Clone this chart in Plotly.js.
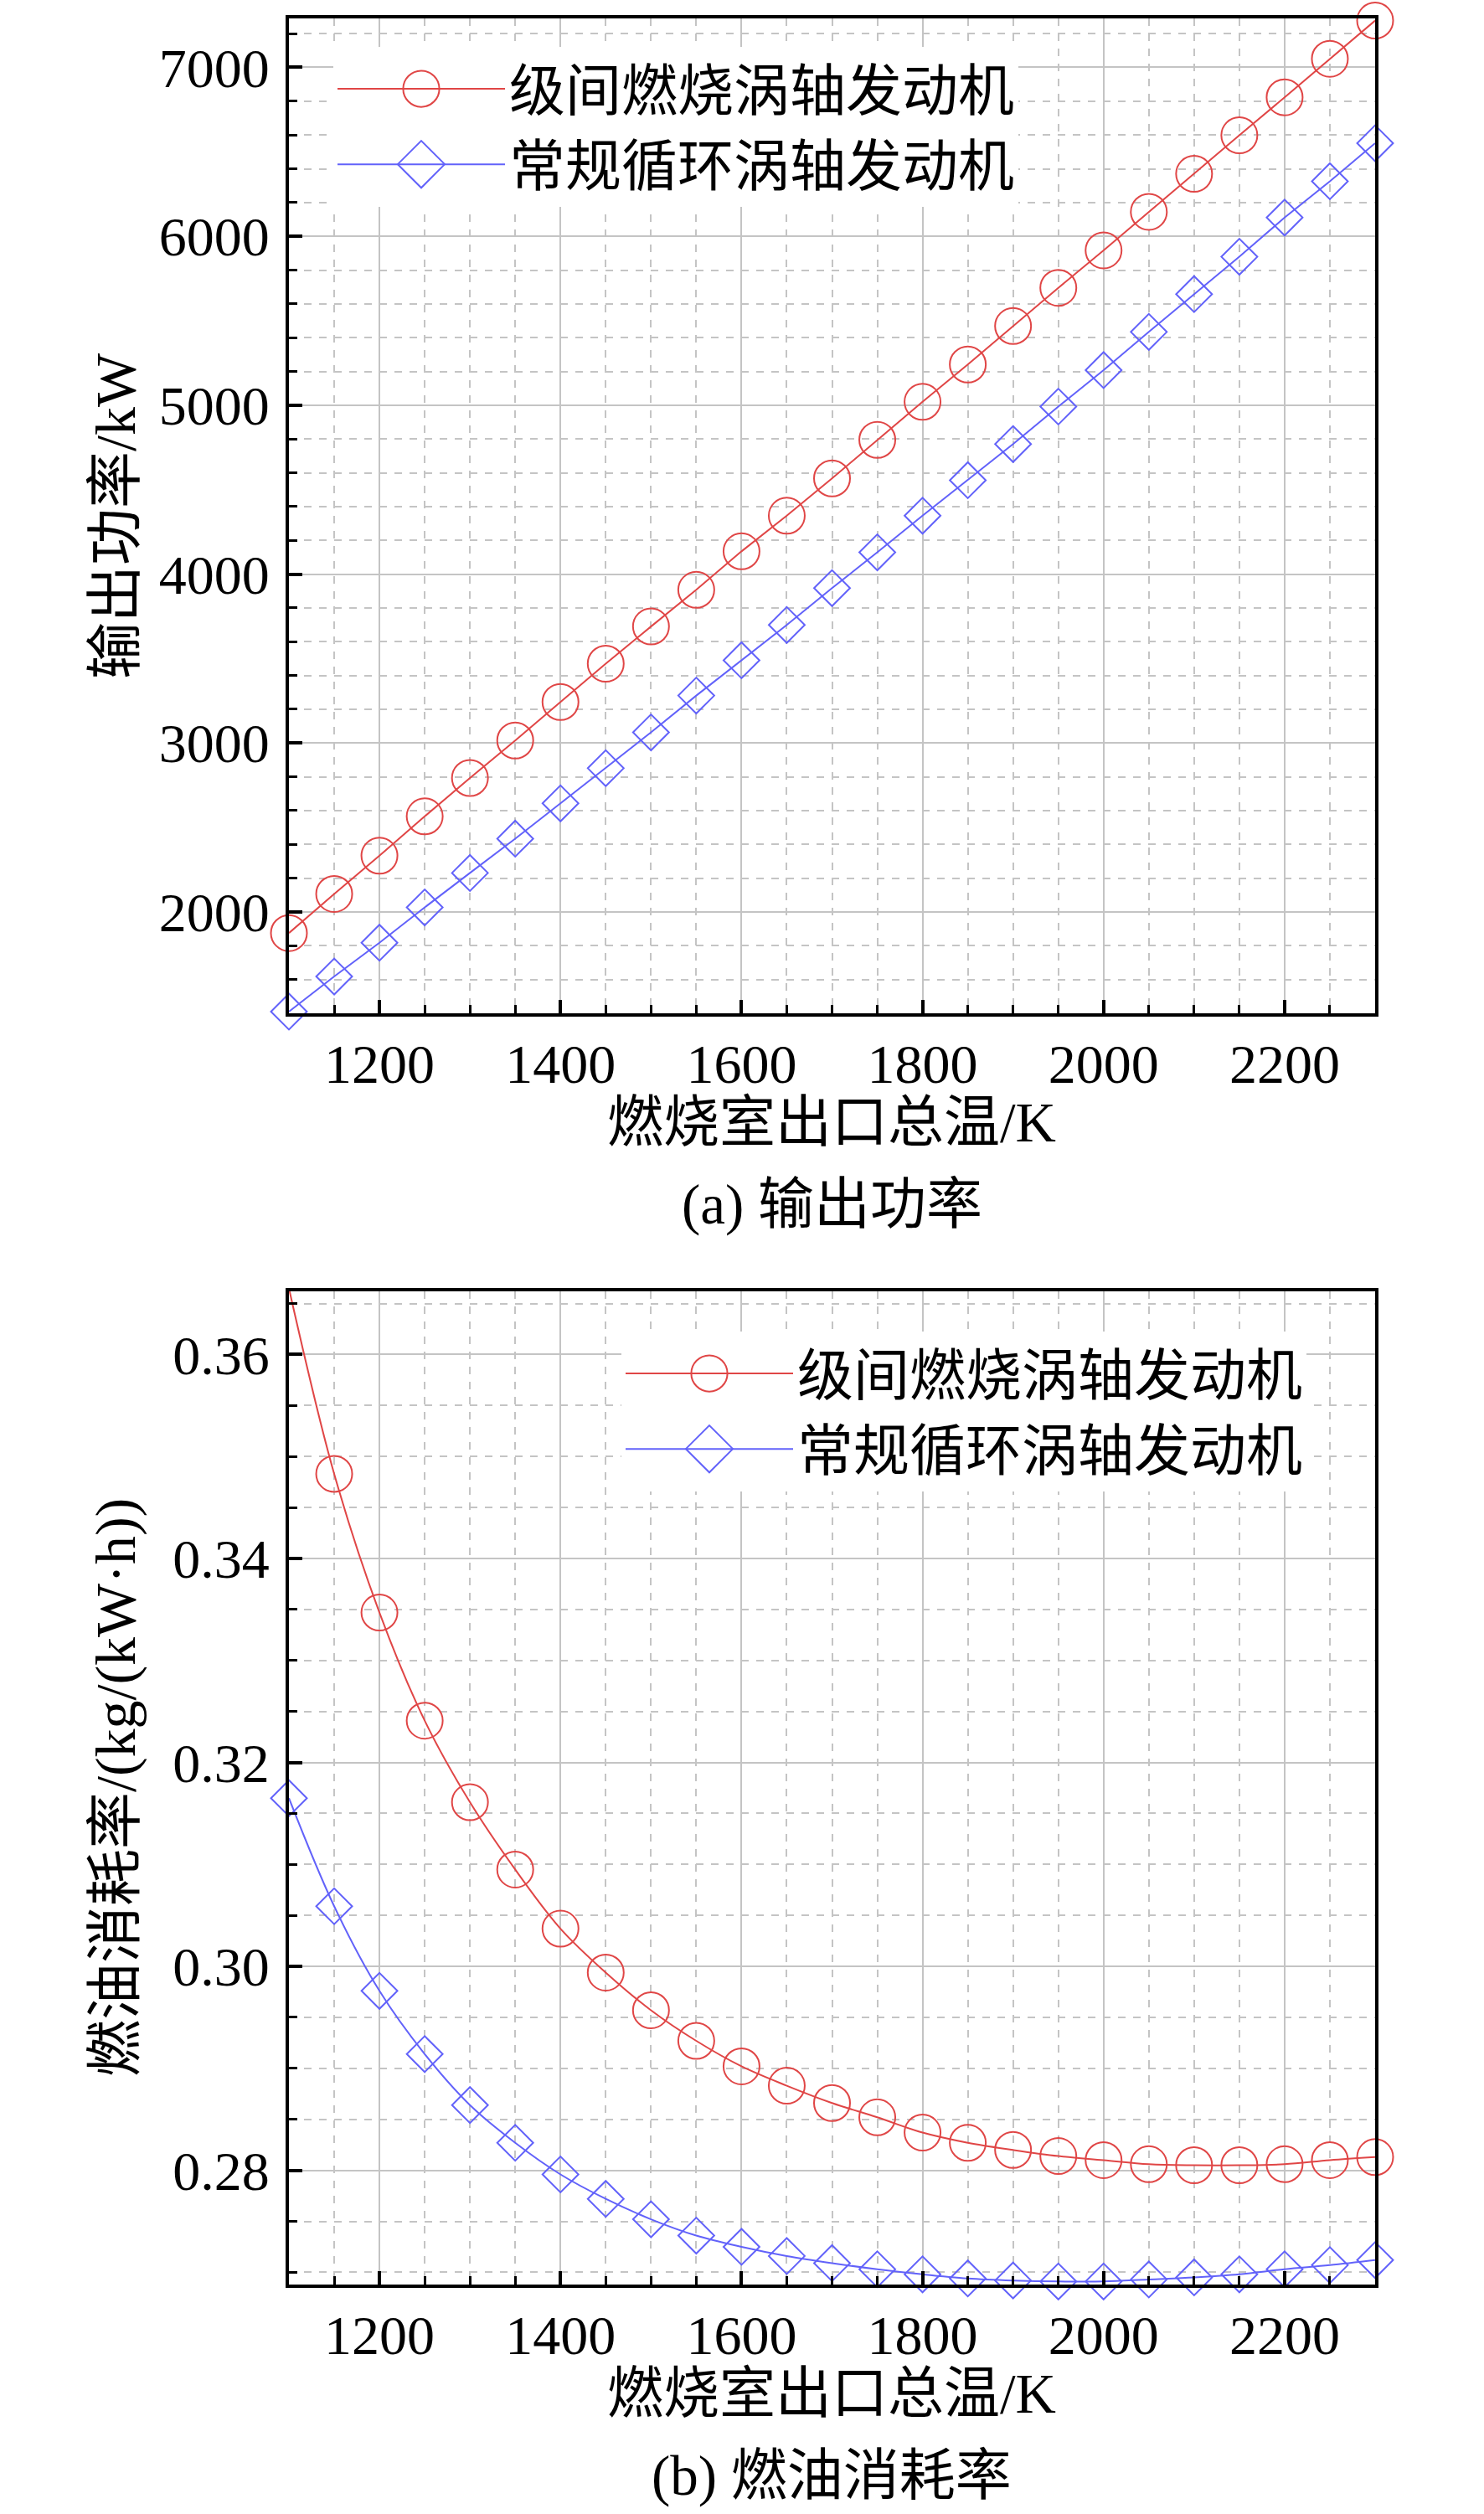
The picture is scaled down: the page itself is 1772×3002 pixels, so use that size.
<!DOCTYPE html>
<html>
<head>
<meta charset="utf-8">
<script src="https://cdn.plot.ly/plotly-3.0.1.min.js"></script>
<style>
  html, body { margin: 0; padding: 0; background: #fff; }
  #chart { width: 1772px; height: 3002px; }
</style>
</head>
<body>
<div id="chart"></div>
<script>
// Combustor exit total temperature (K)
const temps = [1100, 1150, 1200, 1250, 1300, 1350, 1400, 1450, 1500, 1550, 1600, 1650, 1700,
               1750, 1800, 1850, 1900, 1950, 2000, 2050, 2100, 2150, 2200, 2250, 2300];

const seriesNames = ['级间燃烧涡轴发动机', '常规循环涡轴发动机'];

// (a) output power, kW
const powerInterstage = [1875, 2107, 2333, 2566, 2793, 3015, 3243, 3470, 3690, 3907, 4135, 4346, 4567,
                         4795, 5020, 5241, 5469, 5695, 5917, 6145, 6370, 6598, 6823, 7051, 7277];
const powerConventional = [1410, 1618, 1818, 2027, 2231, 2434, 2643, 2851, 3063, 3281, 3490, 3699, 3917,
                           4129, 4346, 4556, 4770, 4992, 5208, 5434, 5658, 5879, 6111, 6326, 6551];

// (b) fuel consumption rate, kg/(kW·h)
const sfcInterstage = [0.3665, 0.3483, 0.3347, 0.3241, 0.3161, 0.3095, 0.3037, 0.2994, 0.2957, 0.2927, 0.2902, 0.2883, 0.2866,
                       0.2852, 0.2837, 0.2827, 0.2820, 0.2814, 0.2810, 0.2806, 0.2805, 0.2805, 0.2806, 0.2810, 0.2813];
const sfcConventional = [0.3165, 0.3059, 0.2976, 0.2914, 0.2864, 0.2827, 0.2796, 0.2772, 0.2752, 0.2736, 0.2725, 0.2716, 0.2709,
                         0.2703, 0.2698, 0.2694, 0.2692, 0.2691, 0.2691, 0.2693, 0.2695, 0.2698, 0.2703, 0.2707, 0.2712];

const xTitle = '燃烧室出口总温/K';
const yTitles = ['输出功率/kW', '燃油消耗率/(kg/(kW·h))'];
const captions = ['(a) 输出功率', '(b) 燃油消耗率'];

const W = 1772, H = 3002;
const FONT = 'Liberation Serif, "Noto Sans CJK SC", serif';
const RED = '#e04646';
const BLUE = '#6262fa';

// pixel helpers -> paper coordinates (margins are zero)
const px = (x) => x / W;
const py = (y) => 1 - y / H;

const plotLeft = 345, plotRight = 1642;
const panels = [
  {top: 22, bottom: 1210},
  {top: 1542, bottom: 2728}
];

function makeTrace(y, i, xa, ya, legend, shape) {
  return {
    x: temps, y: y, name: seriesNames[i],
    xaxis: xa, yaxis: ya, legend: legend,
    type: 'scatter', mode: 'lines+markers',
    cliponaxis: false,
    line: {color: i === 0 ? RED : BLUE, width: 2, shape: shape},
    marker: {
      symbol: i === 0 ? 'circle-open' : 'diamond-open',
      size: i === 0 ? 43 : 33,
      color: i === 0 ? RED : BLUE,
      line: {width: 2}
    }
  };
}

const data = [
  makeTrace(powerInterstage, 0, 'x', 'y', 'legend', 'linear'),
  makeTrace(powerConventional, 1, 'x', 'y', 'legend', 'linear'),
  makeTrace(sfcInterstage, 0, 'x2', 'y2', 'legend2', 'spline'),
  makeTrace(sfcConventional, 1, 'x2', 'y2', 'legend2', 'spline')
];

const gridCol = '#c4c4c4';

function xAxis(anchor) {
  return {
    domain: [px(plotLeft), px(plotRight)], anchor: anchor,
    range: [1100, 2300], dtick: 200, tick0: 1200,
    showline: true, linewidth: 4, linecolor: '#000', mirror: true,
    ticks: 'inside', ticklen: 16, tickwidth: 4, tickcolor: '#000',
    showgrid: true, gridcolor: gridCol, gridwidth: 2,
    zeroline: false, automargin: false,
    ticklabelstandoff: 0,
    tickfont: {family: FONT, size: 66, color: '#000'},
    minor: {dtick: 50, ticks: 'inside', ticklen: 10, tickwidth: 3, tickcolor: '#000',
            showgrid: true, gridcolor: gridCol, gridwidth: 2, griddash: 'dash'}
  };
}

function yAxis(anchor, p, range, dtick, minor, fmt) {
  return {
    domain: [py(p.bottom), py(p.top)], anchor: anchor,
    range: range, dtick: dtick, tickformat: fmt,
    showline: true, linewidth: 4, linecolor: '#000', mirror: true,
    ticks: 'inside', ticklen: 16, tickwidth: 4, tickcolor: '#000',
    showgrid: true, gridcolor: gridCol, gridwidth: 2,
    zeroline: false, automargin: false,
    ticklabelstandoff: 6,
    tickfont: {family: FONT, size: 66, color: '#000'},
    minor: {dtick: minor, ticks: 'inside', ticklen: 10, tickwidth: 3, tickcolor: '#000',
            showgrid: true, gridcolor: gridCol, gridwidth: 2, griddash: 'dash'}
  };
}

function legendBox(x, y) {
  return {
    x: px(x), y: py(y), xanchor: 'left', yanchor: 'top',
    bgcolor: '#fff', borderwidth: 0,
    font: {family: FONT, size: 67, color: '#000'},
    itemwidth: 200, itemsizing: 'trace', tracegroupgap: 0
  };
}

const annotations = [];
panels.forEach((p, i) => {
  const cx = px((plotLeft + plotRight) / 2);
  annotations.push({
    text: xTitle, xref: 'paper', yref: 'paper', x: cx, y: py(p.bottom + 130),
    xanchor: 'center', yanchor: 'middle', showarrow: false,
    font: {family: FONT, size: 67, color: '#000'}
  });
  annotations.push({
    text: captions[i], xref: 'paper', yref: 'paper', x: cx, y: py(p.bottom + 228),
    xanchor: 'center', yanchor: 'middle', showarrow: false,
    font: {family: FONT, size: 67, color: '#000'}
  });
  annotations.push({
    text: yTitles[i], xref: 'paper', yref: 'paper', x: px(138), y: py((p.top + p.bottom) / 2),
    xanchor: 'center', yanchor: 'middle', showarrow: false, textangle: -90,
    font: {family: FONT, size: 68, color: '#000'}
  });
});

const layout = {
  width: W, height: H,
  margin: {l: 0, r: 0, t: 0, b: 0},
  paper_bgcolor: '#fff', plot_bgcolor: '#fff',
  showlegend: true,
  xaxis: xAxis('y'),
  yaxis: yAxis('x', panels[0], [1400, 7290], 1000, 200, 'd'),
  xaxis2: xAxis('y2'),
  yaxis2: yAxis('x2', panels[1], [0.2688, 0.3662], 0.02, 0.005, '.2f'),
  legend: legendBox(398, 56),
  legend2: legendBox(742, 1590),
  annotations: annotations
};

Plotly.newPlot('chart', data, layout, {staticPlot: true}).then((gd) => {
  // legend markers are capped in size by plotly; blow them up to match the plot markers
  gd.querySelectorAll('.legendpoints path.scatterpts').forEach((el) => {
    const k = 2.7;
    el.setAttribute('transform', (el.getAttribute('transform') || '') + ' scale(' + k + ')');
    el.style.strokeWidth = (2 / k) + 'px';
  });
});
</script>
</body>
</html>
